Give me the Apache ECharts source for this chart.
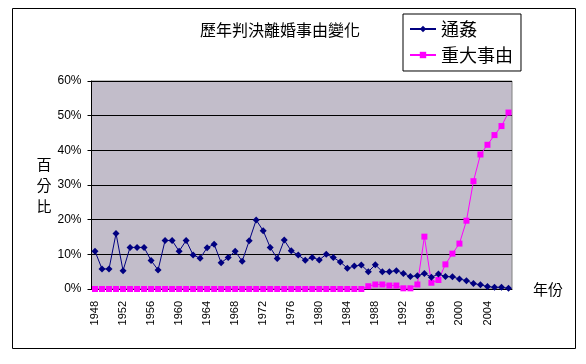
<!DOCTYPE html>
<html>
<head>
<meta charset="utf-8">
<script src="https://cdn.jsdelivr.net/npm/echarts@6/dist/echarts.min.js"></script>
<style>
html,body{margin:0;padding:0;background:#fff;}
#chart{width:586px;height:364px;}
</style>
</head>
<body>
<div id="chart"></div>
<script>
var years = [];
for (var y = 1948; y <= 2007; y++) { years.push(String(y)); }

var adultery = [10.9, 5.8, 5.8, 16.0, 5.3, 12.0, 12.0, 12.0, 8.2, 5.5,
  14.0, 14.0, 10.9, 14.0, 9.8, 8.9, 11.9, 12.9, 7.6, 9.1,
  10.9, 8.0, 13.9, 19.9, 16.8, 12.0, 8.8, 14.1, 11.0, 9.8,
  8.3, 9.1, 8.4, 10.0, 9.1, 7.8, 6.0, 6.6, 6.9, 5.0,
  7.0, 5.0, 5.0, 5.3, 4.5, 3.6, 3.8, 4.5, 3.4, 4.3,
  3.6, 3.5, 2.9, 2.4, 1.6, 1.2, 0.7, 0.5, 0.5, 0.2];

var majorCause = [0, 0, 0, 0, 0, 0, 0, 0, 0, 0,
  0, 0, 0, 0, 0, 0, 0, 0, 0, 0,
  0, 0, 0, 0, 0, 0, 0, 0, 0, 0,
  0, 0, 0, 0, 0, 0, 0, 0, 0, 0.8,
  1.3, 1.3, 1.0, 1.0, 0.2, 0.2, 1.3, 15.1, 1.8, 2.6,
  7.1, 10.2, 13.1, 19.7, 31.1, 38.8, 41.6, 44.4, 47.0, 50.9];

var titleText = '歷年判決離婚事由變化';
var seriesNames = ['通姦', '重大事由'];
var yTicks = { min: 0, max: 60, interval: 10 };

var numFont = '"Liberation Sans", "Noto Sans CJK TC", sans-serif';
var cjkFont = '"Noto Sans CJK TC", sans-serif';

var chart = echarts.init(document.getElementById('chart'), null, { renderer: 'canvas' });
chart.setOption({
  animation: false,
  backgroundColor: '#ffffff',
  title: {
    text: titleText,
    left: 200, top: 22,
    padding: 0,
    textStyle: { fontFamily: cjkFont, fontSize: 16, fontWeight: 'normal', color: '#000' }
  },
  legend: {
    orient: 'vertical',
    left: 403, top: 14,
    width: 119,
    padding: [6, 8, 7, 6],
    itemGap: 8,
    itemWidth: 26, itemHeight: 8,
    borderColor: '#000', borderWidth: 1,
    textStyle: { fontFamily: cjkFont, fontSize: 18, color: '#000' },
    data: seriesNames
  },
  grid: { left: 91.5, right: 74, top: 81, bottom: 75, containLabel: false,
          show: true, backgroundColor: '#c2bdca', borderColor: '#808080', borderWidth: 1 },
  xAxis: {
    type: 'category',
    data: years,
    boundaryGap: true,
    name: '年份',
    nameLocation: 'end',
    nameGap: 21,
    nameTextStyle: { fontFamily: cjkFont, fontSize: 15, color: '#000', padding: [26, 0, 0, 0], align: 'left' },
    axisLine: { lineStyle: { color: '#000', width: 1 } },
    axisTick: { inside: true, length: 3, lineStyle: { color: '#000' }, interval: 0 },
    axisLabel: { interval: 3, rotate: 90, margin: 12, fontFamily: numFont, fontSize: 11, color: '#000' },
    splitLine: { show: false }
  },
  yAxis: {
    type: 'value',
    min: yTicks.min, max: yTicks.max, interval: yTicks.interval,
    name: '百\n分\n比',
    nameLocation: 'middle',
    nameRotate: 0,
    nameGap: 21,
    nameTextStyle: { fontFamily: cjkFont, fontSize: 15, color: '#000', lineHeight: 21 },
    axisLine: { show: true, lineStyle: { color: '#000', width: 1 } },
    axisTick: { show: true, length: 4, lineStyle: { color: '#000' } },
    axisLabel: { formatter: '{value}%', margin: 10, fontFamily: numFont, fontSize: 12, color: '#000' },
    splitLine: { show: true, lineStyle: { color: '#000', width: 1 } }
  },
  series: [
    {
      name: seriesNames[0],
      type: 'line',
      data: adultery,
      symbol: 'diamond',
      symbolSize: 7,
      showAllSymbol: true,
      lineStyle: { color: '#000080', width: 1 },
      itemStyle: { color: '#000080' },
      z: 3
    },
    {
      name: seriesNames[1],
      type: 'line',
      data: majorCause,
      symbol: 'rect',
      symbolSize: 6,
      showAllSymbol: true,
      lineStyle: { color: '#ff00ff', width: 1 },
      itemStyle: { color: '#ff00ff' },
      z: 2
    }
  ],
  graphic: [{
    type: 'rect',
    shape: { x: 12.5, y: 8.5, width: 563, height: 340 },
    style: { fill: null, stroke: '#000', lineWidth: 1 },
    silent: true, z: -10
  }]
});
</script>
</body>
</html>
